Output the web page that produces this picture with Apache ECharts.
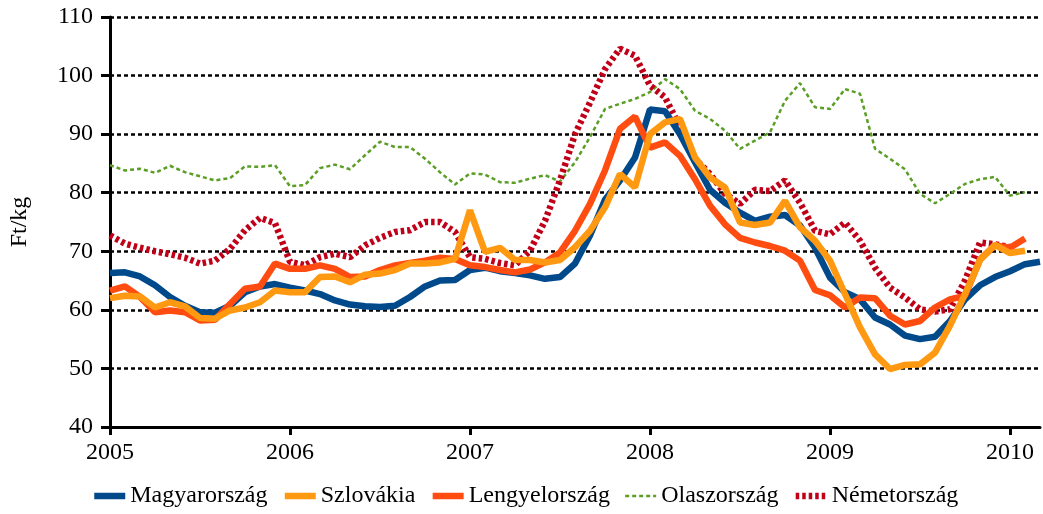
<!DOCTYPE html>
<html>
<head>
<meta charset="utf-8">
<script src="https://cdn.jsdelivr.net/npm/echarts@6/dist/echarts.min.js"></script>
<style>
	html, body { margin: 0; padding: 0; background: #fff; }
	#chart { width: 1043px; height: 514px; }
</style>
</head>
<body>
<div id="chart"></div>
<script>
// havi adatok, 2005-01 .. 2010-03
var honapok = [];
for (var ev = 2005; ev <= 2010; ev++) {
	for (var ho = 1; ho <= 12; ho++) {
		if (ev === 2010 && ho > 3) break;
		honapok.push(ev + '-' + (ho < 10 ? '0' + ho : ho));
	}
}

var magyarorszag = [
	66.3, 66.4, 65.7, 64.2, 62.2, 60.7, 59.6, 59.5, 60.7, 63.0, 64.0, 64.4,
	63.8, 63.3, 62.7, 61.6, 60.9, 60.6, 60.5, 60.7, 62.2, 64.0, 65.0, 65.1,
	66.8, 67.2, 66.6, 66.3, 65.9, 65.3, 65.6, 67.9, 72.7, 78.8, 82.1, 86.0,
	94.2, 93.9, 90.0, 85.2, 80.5, 78.3, 76.6, 75.2, 75.9, 76.2, 74.4, 70.6,
	65.5, 63.0, 61.8, 58.7, 57.5, 55.6, 55.0, 55.4, 58.1, 61.8, 64.2, 65.6,
	66.6, 67.8, 68.2
];
var szlovakia = [
	62.0, 62.4, 62.3, 60.4, 61.3, 60.6, 58.6, 58.5, 59.9, 60.4, 61.3, 63.3,
	63.0, 63.0, 65.6, 65.7, 64.7, 66.0, 66.2, 66.8, 67.9, 67.9, 68.1, 68.7,
	77.0, 69.9, 70.6, 68.5, 68.5, 68.1, 68.5, 70.7, 73.5, 77.5, 83.2, 80.9,
	90.0, 92.0, 92.6, 86.0, 82.6, 80.9, 74.9, 74.5, 74.9, 78.6, 74.1, 71.8,
	68.4, 62.7, 57.0, 52.4, 49.9, 50.6, 50.7, 52.7, 57.3, 62.7, 68.5, 71.1,
	69.7, 70.1
];
var lengyelorszag = [
	63.3, 64.0, 62.2, 59.6, 59.9, 59.6, 58.2, 58.3, 61.0, 63.6, 64.0, 67.9,
	67.0, 67.0, 67.6, 67.0, 65.6, 65.7, 66.8, 67.6, 68.0, 68.4, 68.9, 68.7,
	67.6, 67.3, 66.8, 66.4, 66.9, 68.1, 69.8, 73.5, 78.1, 83.8, 90.9, 93.0,
	87.7, 88.6, 86.3, 82.3, 77.8, 74.6, 72.3, 71.5, 70.9, 70.1, 68.4, 63.4,
	62.5, 60.4, 62.1, 62.0, 59.0, 57.5, 58.1, 60.4, 61.8, 62.4, 68.6, 71.0,
	70.6, 72.2
];
var olaszorszag = [
	84.7, 83.8, 84.1, 83.4, 84.6, 83.5, 82.8, 82.1, 82.5, 84.5, 84.4, 84.7,
	81.1, 81.3, 84.2, 84.8, 84.0, 86.4, 88.7, 87.8, 87.8, 85.8, 83.5, 81.4,
	83.3, 83.1, 81.8, 81.7, 82.4, 83.0, 81.9, 85.2, 89.5, 94.3, 95.2, 96.0,
	97.2, 99.4, 97.7, 94.0, 92.6, 90.6, 87.5, 88.9, 90.3, 95.7, 98.7, 94.6,
	94.3, 97.7, 96.9, 87.5, 85.8, 84.0, 79.8, 78.2, 79.8, 81.5, 82.3, 82.7,
	79.5, 80.1
];
var nemetorszag = [
	72.7, 71.3, 70.6, 70.0, 69.5, 68.9, 67.9, 68.4, 70.4, 73.6, 75.7, 74.8,
	68.2, 67.6, 69.0, 69.6, 69.0, 71.0, 72.3, 73.3, 73.6, 75.0, 75.0, 73.3,
	69.0, 68.7, 68.0, 67.6, 70.1, 75.2, 82.1, 90.0, 95.4, 101.1, 104.6, 103.4,
	98.3, 96.3, 91.2, 85.8, 83.2, 79.8, 78.1, 80.5, 80.3, 82.1, 78.3, 73.5,
	72.9, 74.9, 71.8, 67.2, 63.8, 62.1, 60.1, 59.7, 60.1, 65.0, 71.5, 71.2,
	70.7
];

var betu = 'Liberation Serif';

var chart = echarts.init(document.getElementById('chart'));
var option = {
	backgroundColor: '#fff',
	animation: false,
	textStyle: { fontFamily: betu, color: '#000' },
	grid: { left: 110, right: 3, top: 17, bottom: 87 },
	legend: {
		left: 91,
		top: 484,
		padding: 0,
		itemWidth: 31,
		itemHeight: 14,
		itemGap: 14,
		itemStyle: { opacity: 0 }, // a kör jelölő ne látsszon
		lineStyle: { width: 'inherit' },
		textStyle: { fontFamily: betu, fontSize: 24, color: '#000' },
		data: ['Magyarország', 'Szlovákia', 'Lengyelország', 'Olaszország', 'Németország']
	},
	xAxis: {
		type: 'category',
		boundaryGap: false,
		data: honapok,
		axisLine: { lineStyle: { color: '#000', width: 3 } },
		axisTick: { interval: 11, length: 8, lineStyle: { color: '#000', width: 3 } },
		axisLabel: {
			interval: 11,
			margin: 14,
			fontFamily: betu,
			fontSize: 24,
			color: '#000',
			formatter: function (v) { return v.split('-')[0]; }
		},
		splitLine: { show: false }
	},
	yAxis: {
		type: 'value',
		min: 40,
		max: 110,
		interval: 10,
		name: 'Ft/kg',
		nameLocation: 'middle',
		nameGap: 78,
		nameTextStyle: { fontFamily: betu, fontSize: 24, color: '#000' },
		axisLine: { show: true, lineStyle: { color: '#000', width: 3 } },
		axisTick: { show: true, length: 9, lineStyle: { color: '#000', width: 3 } },
		axisLabel: { margin: 17, fontFamily: betu, fontSize: 24, color: '#000' },
		splitLine: { lineStyle: { color: '#000', width: 2.5, type: [4, 3] } }
	},
	series: [
		{
			name: 'Magyarország', type: 'line', data: magyarorszag, z: 5,
			symbol: 'none', color: '#004a8c',
			lineStyle: { width: 6.5, color: '#004a8c' }
		},
		{
			name: 'Szlovákia', type: 'line', data: szlovakia, z: 7,
			symbol: 'none', color: '#ff9912',
			lineStyle: { width: 6.5, color: '#ff9912' }
		},
		{
			name: 'Lengyelország', type: 'line', data: lengyelorszag, z: 6,
			symbol: 'none', color: '#ff4c10',
			lineStyle: { width: 6.5, color: '#ff4c10' }
		},
		{
			name: 'Olaszország', type: 'line', data: olaszorszag, z: 3,
			symbol: 'none', color: '#5a9e26',
			lineStyle: { width: 2.5, color: '#5a9e26', type: [4, 3] }
		},
		{
			name: 'Németország', type: 'line', data: nemetorszag, z: 4,
			symbol: 'none', color: '#c00018',
			lineStyle: { width: 6.5, color: '#c00018', type: [3.5, 3] }
		}
	]
};
chart.setOption(option);
</script>
</body>
</html>
